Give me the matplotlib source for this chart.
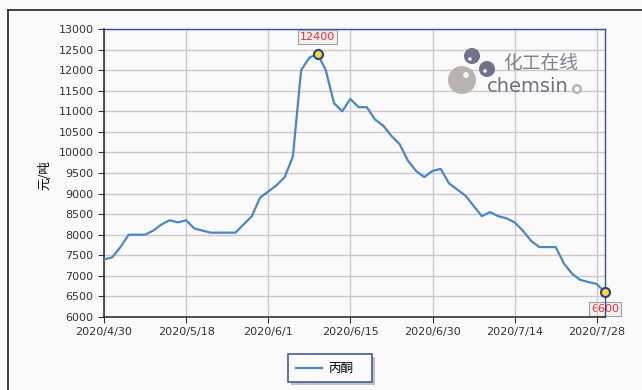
import numpy as np
import matplotlib.pyplot as plt
from matplotlib.patches import Ellipse, Rectangle

plt.rcParams['font.family'] = ['DejaVu Sans', 'Noto Sans CJK SC']

# price of acetone, yuan per ton, one value per trading day
prices = [7400, 7450, 7700, 8000, 8000, 8000, 8100, 8250, 8350, 8300,
          8350, 8150, 8100, 8050, 8050, 8050, 8050, 8250, 8450, 8900,
          9050, 9200, 9400, 9900, 12000, 12300, 12400, 12000, 11200, 11000,
          11300, 11100, 11100, 10800, 10650, 10400, 10200, 9800, 9550, 9400,
          9550, 9600, 9250, 9100, 8950, 8700, 8450, 8550, 8450, 8400,
          8300, 8100, 7850, 7700, 7700, 7700, 7300, 7050, 6900, 6850,
          6800, 6600]
tick_pos = [0, 10, 20, 30, 40, 50, 60]
tick_labels = ['2020/4/30', '2020/5/18', '2020/6/1', '2020/6/15',
               '2020/6/30', '2020/7/14', '2020/7/28']
y_ticks = list(range(6000, 13001, 500))

W, H = 642, 390
fig = plt.figure(figsize=(6.42, 3.9), dpi=100)
fig.patch.set_facecolor('#fafafa')


def fx(px):
    return px / W


def fy(py):
    return 1 - py / H


# outer frame of the picture (only left and top show)
fig.add_artist(plt.Line2D([fx(8), fx(8)], [0, fy(10)], color='#222222', lw=1.2,
                          transform=fig.transFigure))
fig.add_artist(plt.Line2D([fx(8), 1], [fy(10), fy(10)], color='#222222', lw=1.2,
                          transform=fig.transFigure))

ax = fig.add_axes([fx(104), fy(317), fx(501), 288 / H])
ax.set_facecolor('#fafafa')
x = np.arange(len(prices))
ax.plot(x, prices, color='#4a86c8', lw=1.6, zorder=3)

ax.set_xlim(0, len(prices) - 1)
ax.set_ylim(6000, 13000)
ax.set_yticks(y_ticks)
ax.set_xticks(tick_pos)
ax.set_xticklabels(tick_labels)
ax.tick_params(labelsize=8, colors='#333333', length=4, width=0.8)
ax.tick_params(axis='x', pad=3)
ax.grid(True, color='#cfc7c7', lw=1.0)

for s in ['left', 'bottom']:
    ax.spines[s].set_color('#333333')
    ax.spines[s].set_linewidth(1.2)
for s in ['top', 'right']:
    ax.spines[s].set_color('#3a4f9a')
    ax.spines[s].set_linewidth(1.0)

fig.text(fx(45), fy(175), '元/吨', rotation=90, ha='center', va='center',
         fontsize=9, family=['Noto Sans CJK SC', 'DejaVu Sans'])

# markers on max and last values
i_max = int(np.argmax(prices))
i_last = len(prices) - 1
for i in [i_max, i_last]:
    ax.plot(i, prices[i], 'o', ms=6.5, mfc='#f0e020', mec='#2e3f8f', mew=1.5, zorder=5, clip_on=False)

box = dict(boxstyle='square,pad=0.15', fc='#f0f0f0', ec='#a0a0a0', lw=0.8)
ax.annotate(str(prices[i_max]), (i_max, prices[i_max]), xytext=(0, 12), textcoords='offset points',
            ha='center', va='center', color='#e83030', fontsize=8, bbox=box, zorder=6)
ax.annotate(str(prices[i_last]), (i_last, prices[i_last]), xytext=(0, -12), textcoords='offset points',
            ha='center', va='center', color='#e83030', fontsize=8, bbox=box, zorder=1,
            annotation_clip=False)

# watermark logo
def blob(cx, cy, r, color):
    fig.add_artist(Ellipse((fx(cx), fy(cy)), 2 * r / W, 2 * r / H, fc=color, ec='none',
                           transform=fig.transFigure, zorder=2))


blob(462, 80, 14, '#bab2ae')
blob(466, 75, 3, '#f4f4f4')
blob(472, 56, 8, '#6e7388')
blob(487, 69, 8, '#6e7388')
blob(470, 59, 1.8, '#f4f4f4')
blob(485, 71, 1.8, '#f4f4f4')
fig.text(fx(541), fy(64), '化工在线', ha='center', va='center', fontsize=13.5, color='#80828e',
         family=['Noto Sans CJK SC', 'DejaVu Sans'], zorder=2)
fig.text(fx(528), fy(87), 'chemsin', ha='center', va='center', fontsize=14, color='#6e7080', zorder=2)
blob(577, 89, 5, '#bab2ae')
blob(577, 89, 2.5, '#fafafa')

# legend with a slight shadow
fig.add_artist(Rectangle((fx(291), fy(385)), 84 / W, 28 / H, fc='#c0c0c8', ec='none',
                         transform=fig.transFigure))
fig.add_artist(Rectangle((fx(288), fy(382)), 84 / W, 28 / H, fc='#fafafa', ec='#4a5a9a',
                         lw=1.2, transform=fig.transFigure))
fig.add_artist(plt.Line2D([fx(296), fx(322)], [fy(368), fy(368)], color='#4a86c8',
                          lw=1.6, transform=fig.transFigure))
fig.text(fx(328), fy(368), '丙酮', ha='left', va='center', fontsize=9,
         family=['Noto Sans CJK SC', 'DejaVu Sans'])

fig.savefig('out.png', dpi=100, facecolor=fig.get_facecolor())
